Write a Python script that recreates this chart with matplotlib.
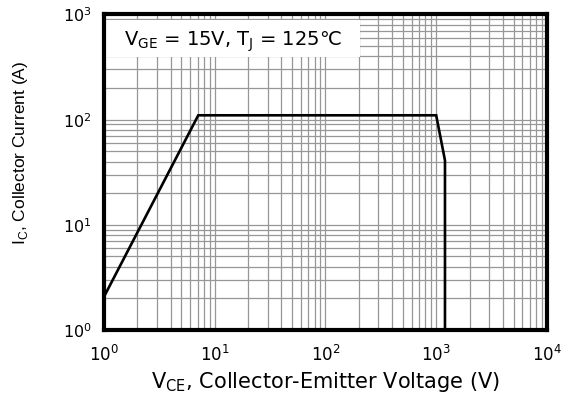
import numpy as np
import matplotlib.pyplot as plt
from matplotlib.patches import Rectangle

plt.rcParams['font.family'] = ['DejaVu Sans']
plt.rcParams['mathtext.fontset'] = 'dejavusans'

# safe operating area boundary (V_CE in volts, I_C in amps)
vce = [1.0, 7.1, 1000.0, 1200.0, 1200.0]
ic = [2.07, 110.0, 110.0, 41.0, 1.0]

x_ticks = [1, 10, 100, 1000, 10000]
x_labels = ['$10^0$', '$10^1$', '$10^2$', '$10^3$', '$10^4$']
y_ticks = [1, 10, 100, 1000]
y_labels = ['$10^0$', '$10^1$', '$10^2$', '$10^3$']

fig = plt.figure(figsize=(5.8, 3.97), dpi=100)
ax = fig.add_axes([0.1793, 0.1688, 0.7637, 0.7947])

ax.set_xscale('log')
ax.set_yscale('log')
ax.set_xlim(1, 1e4)
ax.set_ylim(1, 1e3)

ax.grid(which='both', color='#979797', linewidth=0.9)
ax.set_axisbelow(True)

ax.plot(vce, ic, color='black', linewidth=1.9, solid_joinstyle='miter', zorder=3)

ax.set_xticks(x_ticks)
ax.set_xticklabels(x_labels, fontsize=12)
ax.set_yticks(y_ticks)
ax.set_yticklabels(y_labels, fontsize=11.5)
ax.tick_params(which='both', length=0)
ax.tick_params(axis='x', pad=11)
ax.tick_params(axis='y', pad=9)

for s in ax.spines.values():
    s.set_linewidth(3)
    s.set_zorder(5)

ax.set_xlabel('V$_{\\mathregular{CE}}$, Collector-Emitter Voltage (V)', fontsize=15, labelpad=3)
ax.set_ylabel('I$_{\\mathregular{C}}$, Collector Current (A)', fontsize=12.5,
              family='Liberation Sans', va='center')
ax.yaxis.set_label_coords(-0.188, 0.56)

# white panel behind the test condition note
ax.add_patch(Rectangle((0.0, 0.865), 0.578, 0.118, transform=ax.transAxes,
                       facecolor='white', edgecolor='none', zorder=2))
ax.text(0.046, 0.913, 'V$_{\\mathregular{GE}}$ = 15V, T$_{\\mathregular{J}}$ = 125\u2103',
        transform=ax.transAxes, fontsize=14, va='center', ha='left', zorder=4)

fig.savefig('out.png', dpi=100)
